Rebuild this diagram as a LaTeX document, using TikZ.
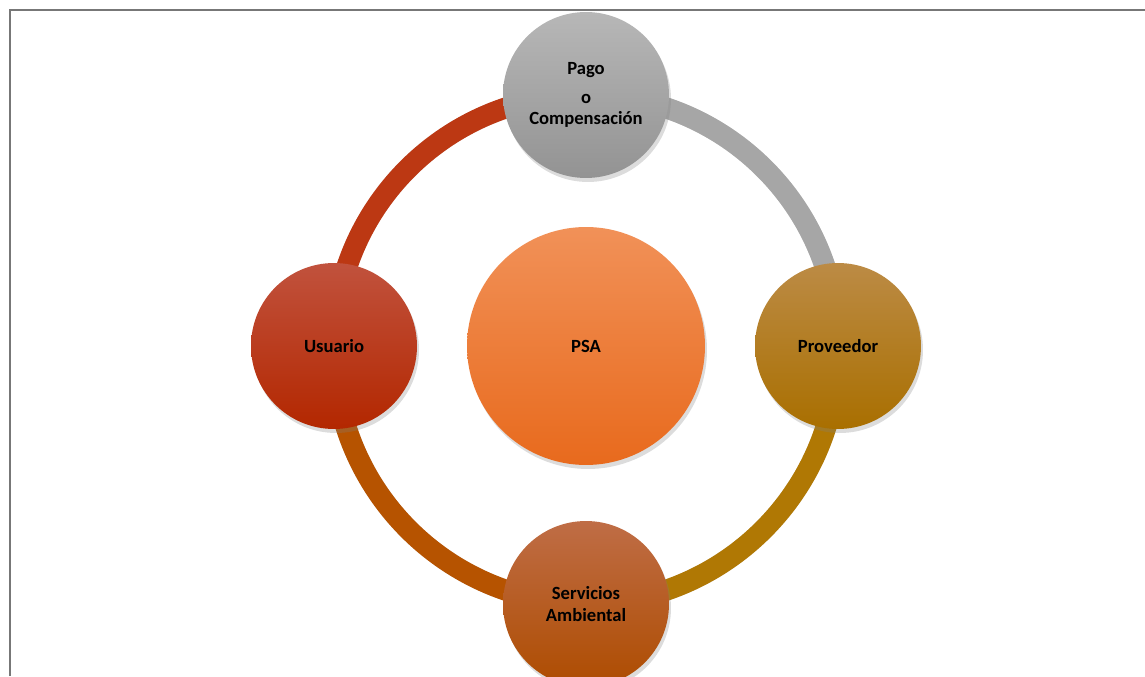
\documentclass[tikz,border=0pt]{standalone}
\usepackage{fontspec}
\setmainfont{Carlito}
\usetikzlibrary{shadows}
\definecolor{psaorangetop}{HTML}{F19158}
\definecolor{psaorangemid}{HTML}{F27F36}
\definecolor{psaorangebot}{HTML}{E86A1D}
\definecolor{usuariotop}{HTML}{C1523D}
\definecolor{usuariomid}{HTML}{BC3203}
\definecolor{usuariobot}{HTML}{B32700}
\definecolor{pagotop}{HTML}{B7B7B7}
\definecolor{pagomid}{HTML}{A5A5A5}
\definecolor{pagobot}{HTML}{939393}
\definecolor{proveedortop}{HTML}{BC8B45}
\definecolor{proveedormid}{HTML}{B27A06}
\definecolor{proveedorbot}{HTML}{A96F00}
\definecolor{serviciotop}{HTML}{BF6D46}
\definecolor{serviciomid}{HTML}{B85404}
\definecolor{serviciobot}{HTML}{AE4C00}
\definecolor{ringred}{HTML}{BC3813}
\definecolor{ringgray}{HTML}{A6A6A6}
\definecolor{ringgold}{HTML}{B07804}
\definecolor{ringorange}{HTML}{B65300}
\definecolor{framegray}{HTML}{777777}

\begin{document}
\begin{tikzpicture}[x=0.02cm, y=0.02cm,
    actor/.style={circle, minimum size=3.32cm, inner sep=0pt, align=center,
        font=\fontsize{10.6}{12}\selectfont\bfseries,
        drop shadow={opacity=0.28, shadow xshift=0.4mm, shadow yshift=-0.8mm}},
    ring/.style={line width=0.42cm},
    ringshadow/.style={line width=0.42cm, black, opacity=0.12, xshift=0.4mm, yshift=-0.7mm}]

    \useasboundingbox (0,0) rectangle (1145,676);
    \draw[framegray, line width=1.1pt] (10,0) -- (10,666) -- (1145,666);

    % places on the cycle
    \coordinate (C) at (586,330);
    \coordinate (Pu) at (334,330);
    \coordinate (Pp) at (586,581);
    \coordinate (Pv) at (838,330);
    \coordinate (Ps) at (586,72);

    % ring between the nodes
    \draw[ringshadow] (Pu) to [bend left=45] (Pp);
    \draw[ringshadow] (Pp) to [bend left=45] (Pv);
    \draw[ringshadow] (Pv) to [bend left=45] (Ps);
    \draw[ringshadow] (Ps) to [bend left=45] (Pu);
    \draw[ring, ringred] (Pu) to [bend left=45] (Pp);
    \draw[ring, ringgray] (Pp) to [bend left=45] (Pv);
    \draw[ring, ringgold] (Pv) to [bend left=45] (Ps);
    \draw[ring, ringorange] (Ps) to [bend left=45] (Pu);

    % nodes on top of the ring
    \node[actor, top color=usuariotop, middle color=usuariomid, bottom color=usuariobot] (Nu) at (Pu) {Usuario};
    \node[actor, top color=pagotop, middle color=pagomid, bottom color=pagobot] (Np) at (Pp) {Pago\\[4.5pt] o\\ Compensación};
    \node[actor, top color=proveedortop, middle color=proveedormid, bottom color=proveedorbot] (Nv) at (Pv) {Proveedor};
    \node[actor, top color=serviciotop, middle color=serviciomid, bottom color=serviciobot] (Ns) at (Ps) {Servicios\\ Ambiental};

    \node[actor, minimum size=4.76cm, top color=psaorangetop, middle color=psaorangemid, bottom color=psaorangebot] (Npsa) at (C) {PSA};
\end{tikzpicture}
\end{document}
